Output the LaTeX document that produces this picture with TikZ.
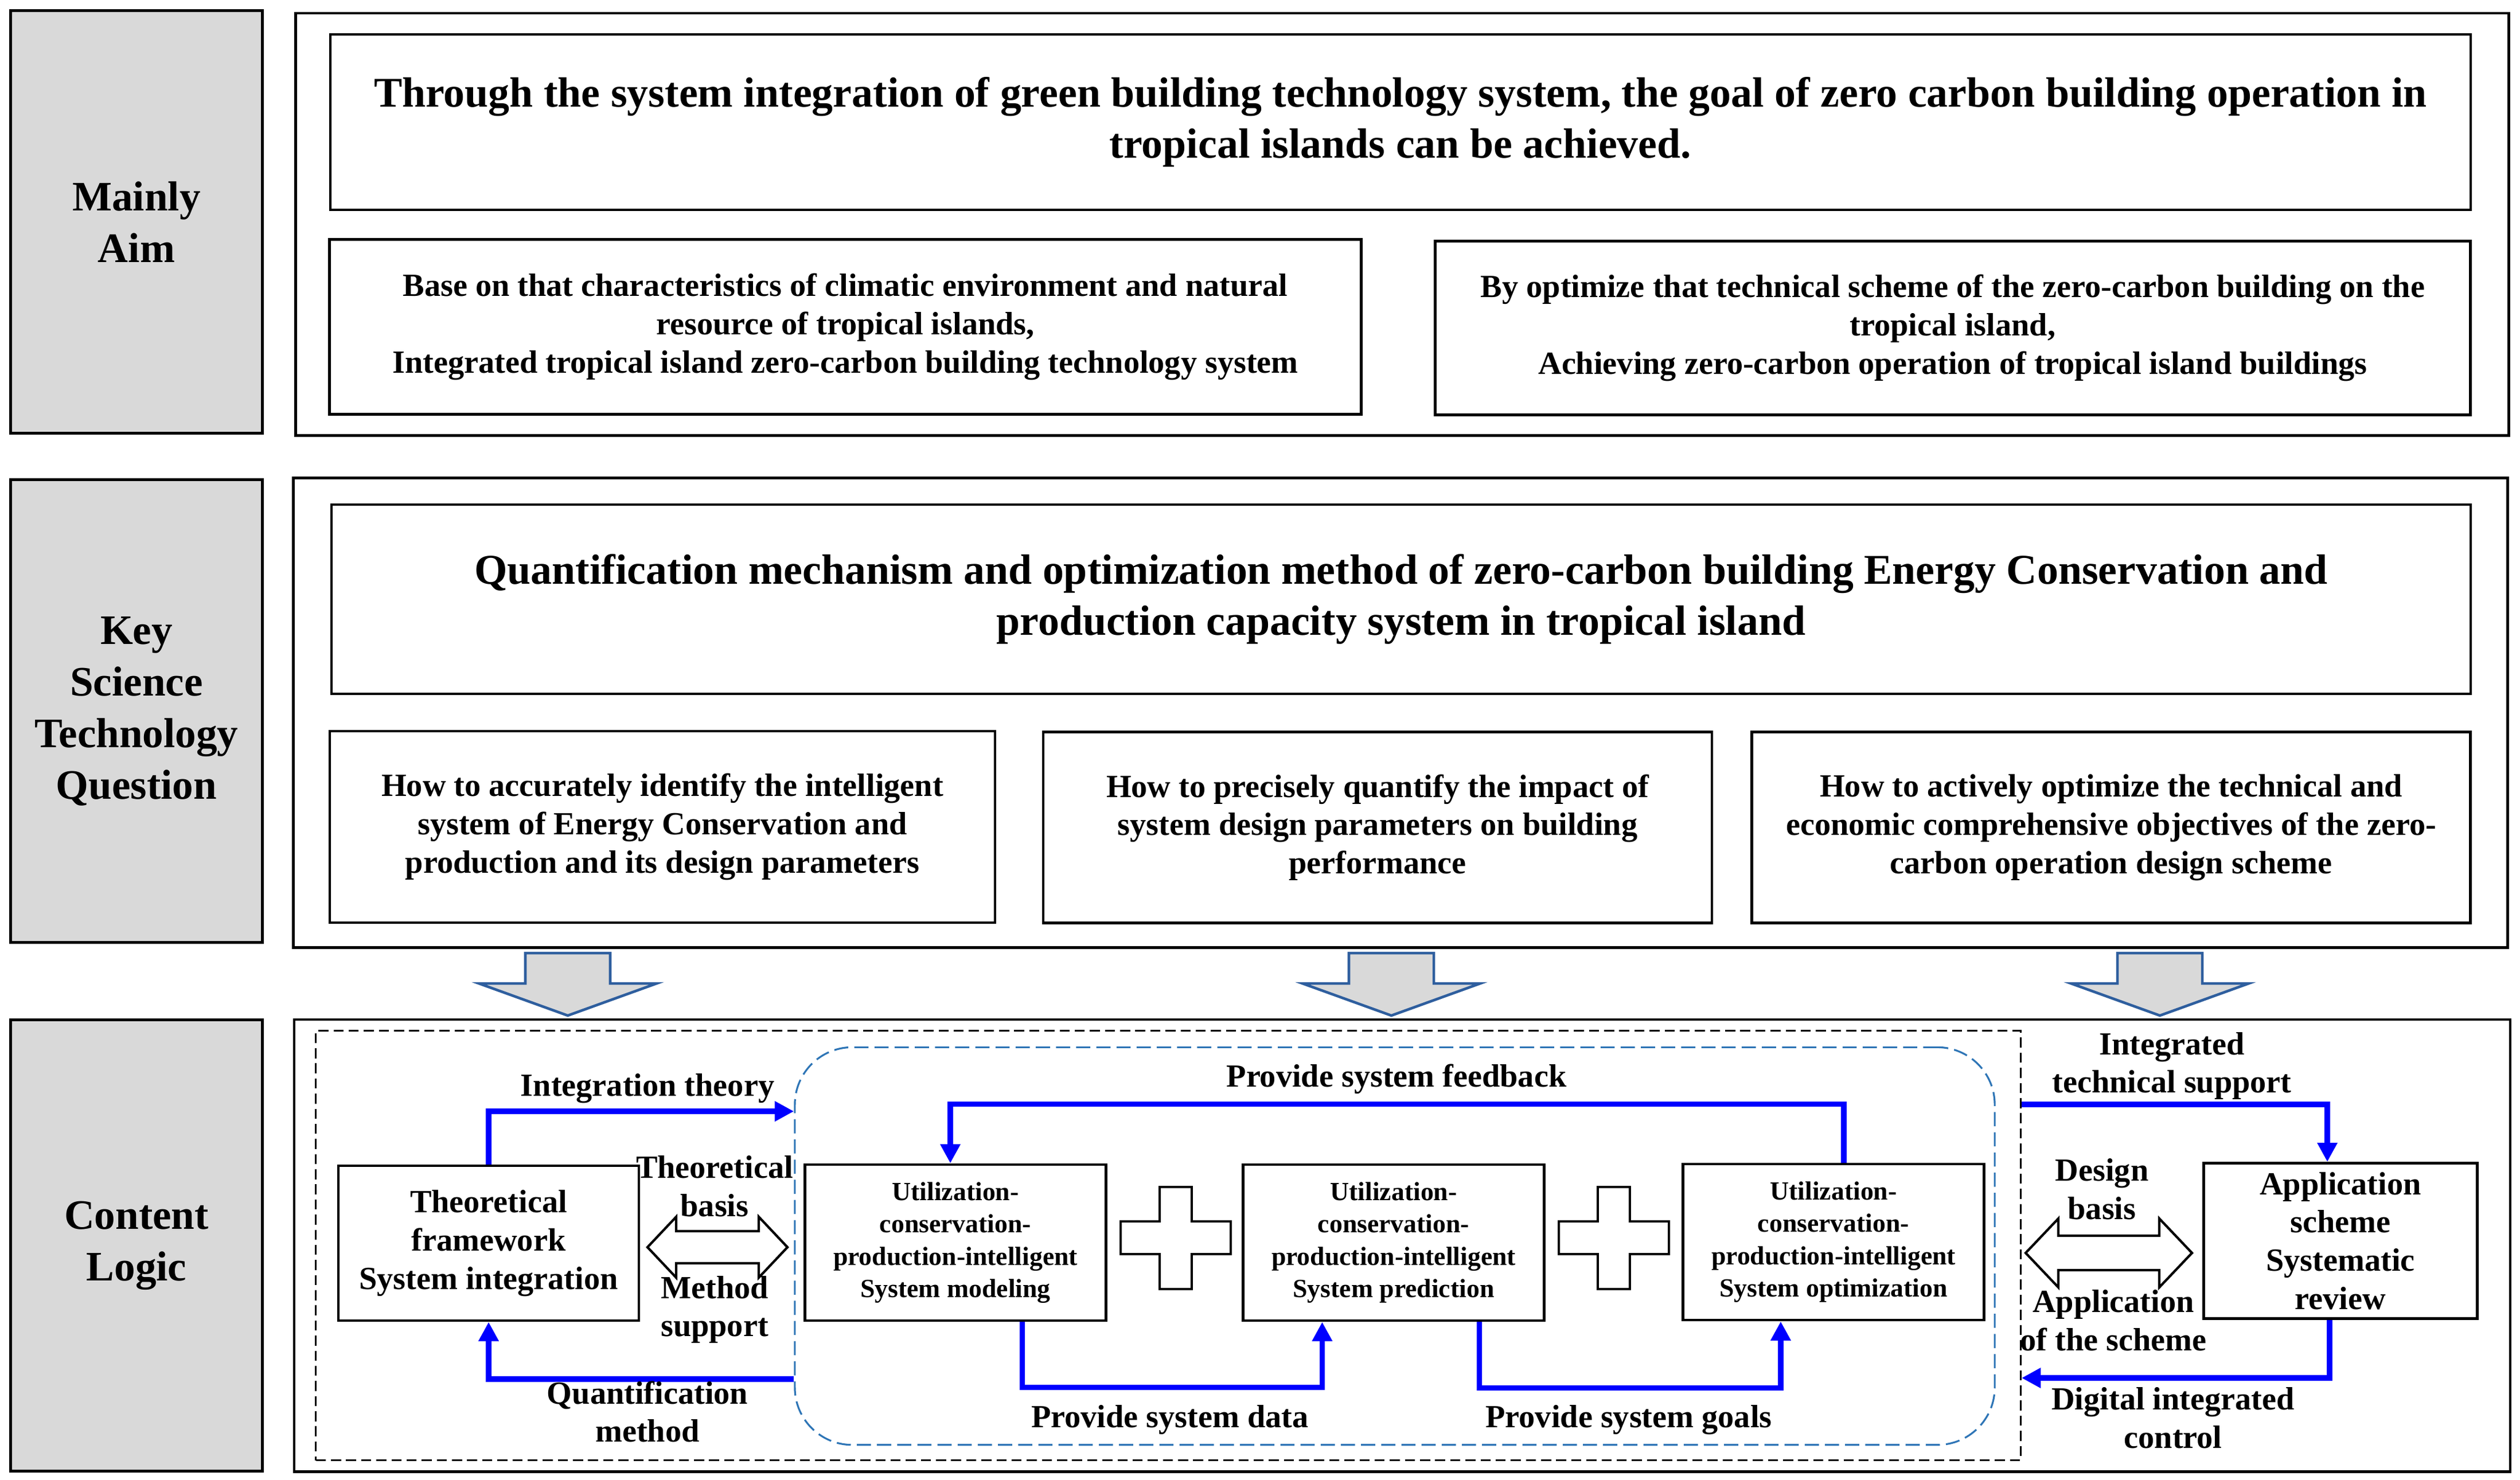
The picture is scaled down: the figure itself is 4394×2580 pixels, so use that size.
\documentclass[tikz,border=0pt]{standalone}
\usepackage{fontspec}
\setmainfont{Liberation Serif}
\usetikzlibrary{arrows.meta}
\definecolor{lgray}{HTML}{D9D9D9}
\definecolor{arrowblue}{HTML}{2E5E9E}
\definecolor{loopblue}{HTML}{2E75B6}
\newcommand{\fsbig}{\bfseries\fontsize{21pt}{25.5pt}\selectfont}
\newcommand{\fsmid}{\bfseries\fontsize{16pt}{19pt}\selectfont}
\newcommand{\fssmall}{\bfseries\fontsize{13pt}{16pt}\selectfont}

\tikzset{
  rowlab/.style={draw, line width=1.4pt, fill=lgray, inner sep=0pt, align=center,
    font=\bfseries\fontsize{20.8pt}{25.6pt}\selectfont},
  rowbox/.style={draw, line width=1.3pt, inner sep=0pt},
  headbox/.style={rowbox, align=center, font=\fsbig},
  subbox/.style={rowbox, align=center, font=\fsmid},
  cellbox/.style={rowbox, align=center, font=\fssmall},
  flowline/.style={draw=blue, line width=2.6pt, -{Triangle[length=9.5pt,width=9.5pt]}},
  tag/.style={align=center, inner sep=0pt, font=\fsmid},
  bigarrow/.style={draw=arrowblue, line width=1.3pt, fill=lgray},
  crossmark/.style={draw, line width=1.2pt, fill=white},
}

\begin{document}
\begin{tikzpicture}[x=0.01cm, y=-0.01cm]
  \useasboundingbox (0,0) rectangle (4394,2580);

  % row labels
  \node[rowlab, minimum width=4.38cm, minimum height=7.36cm] (aimlab) at (238,387) {Mainly\\Aim};
  \node[rowlab, minimum width=4.38cm, minimum height=8.07cm] (keylab) at (238,1240) {Key\\Science\\Technology\\Question};
  \node[rowlab, minimum width=4.38cm, minimum height=7.87cm] (conlab) at (238,2172) {Content\\Logic};

  % row frames
  \node[rowbox, minimum width=38.57cm, minimum height=7.36cm] (aimrow) at (2445,391) {};
  \node[rowbox, minimum width=38.59cm, minimum height=8.19cm] (keyrow) at (2442,1243) {};
  \node[rowbox, minimum width=38.62cm, minimum height=7.88cm] (conrow) at (2445,2172) {};

  % mainly aim
  \node[headbox, minimum width=37.30cm, minimum height=3.06cm] (aimtop) at (2442,213)
    {Through the system integration of green building technology system, the goal of zero carbon building operation in\\tropical islands can be achieved.};
  \node[subbox, minimum width=17.98cm, minimum height=3.05cm] (aimL) at (1474,570)
    {Base on that characteristics of climatic environment and natural\\resource of tropical islands,\\Integrated tropical island zero-carbon building technology system};
  \node[subbox, minimum width=18.04cm, minimum height=3.03cm] (aimR) at (3405,572)
    {By optimize that technical scheme of the zero-carbon building on the\\tropical island,\\Achieving zero-carbon operation of tropical island buildings};

  % key question
  \node[headbox, minimum width=37.28cm, minimum height=3.30cm] (keytop) at (2443,1045)
    {Quantification mechanism and optimization method of zero-carbon building Energy Conservation and\\production capacity system in tropical island};
  \node[subbox, minimum width=11.59cm, minimum height=3.34cm] (keyL) at (1155,1442)
    {How to accurately identify the intelligent\\system of Energy Conservation and\\production and its design parameters};
  \node[subbox, minimum width=11.65cm, minimum height=3.33cm] (keyM) at (2402,1443)
    {How to precisely quantify the impact of\\system design parameters on building\\performance};
  \node[subbox, minimum width=12.52cm, minimum height=3.33cm] (keyR) at (3681,1443)
    {How to actively optimize the technical and\\economic comprehensive objectives of the zero-\\carbon operation design scheme};

  % arrows down
  \foreach \c in {990,2426,3766}
    \draw[bigarrow] ({\c-74},1662) -- ({\c+74},1662) -- ({\c+74},1715) -- ({\c+155},1715)
      -- (\c,1771) -- ({\c-155},1715) -- ({\c-74},1715) -- cycle;

  % content logic
  \node[draw, line width=0.9pt, dash pattern=on 5pt off 2.5pt, minimum width=29.71cm, minimum height=7.49cm] (frame) at (2037,2172) {};
  \node[draw=loopblue, line width=0.9pt, dash pattern=on 7pt off 3pt, rounded corners=1cm,
    minimum width=20.91cm, minimum height=6.93cm] (loop) at (2432,2173) {};

  \node[subbox, minimum width=5.24cm, minimum height=2.70cm] (theo) at (852,2168) {Theoretical\\framework\\System integration};
  \node[cellbox, minimum width=5.25cm, minimum height=2.72cm] (model) at (1666,2167) {Utilization-\\conservation-\\production-intelligent\\System modeling};
  \node[cellbox, minimum width=5.25cm, minimum height=2.72cm] (pred) at (2430,2167) {Utilization-\\conservation-\\production-intelligent\\System prediction};
  \node[cellbox, minimum width=5.25cm, minimum height=2.72cm] (opt) at (3197,2166) {Utilization-\\conservation-\\production-intelligent\\System optimization};
  \node[subbox, minimum width=4.77cm, minimum height=2.71cm] (app) at (4081,2164) {Application\\scheme\\Systematic\\review};

  % plus signs
  \foreach \c in {2050,2814}
    \draw[crossmark] ({\c-28},2070) -- ({\c+28},2070) -- ({\c+28},2130) -- ({\c+96},2130)
      -- ({\c+96},2187) -- ({\c+28},2187) -- ({\c+28},2248) -- ({\c-28},2248)
      -- ({\c-28},2187) -- ({\c-96},2187) -- ({\c-96},2130) -- ({\c-28},2130) -- cycle;

  % double arrows
  \draw[crossmark] (1129,2175) -- (1179,2122) -- (1179,2147) -- (1323,2147) -- (1323,2122)
    -- (1373,2175) -- (1323,2228) -- (1323,2203) -- (1179,2203) -- (1179,2228) -- cycle;
  \draw[crossmark] (3532,2185) -- (3589,2125) -- (3589,2155) -- (3765,2155) -- (3765,2125)
    -- (3822,2185) -- (3765,2245) -- (3765,2215) -- (3589,2215) -- (3589,2245) -- cycle;

  % flows
  \draw[flowline] (theo.north) |- (loop.west |- 0,1938);
  \draw[flowline] (loop.west |- 0,2405) -| (theo.south);
  \draw[flowline] ([xshift=0.18cm]opt.north) -- ++(0,-102) -| ([xshift=-0.09cm]model.north);
  \draw[flowline] ([xshift=1.16cm]model.south) -- ++(0,114) -| ([xshift=-1.245cm]pred.south);
  \draw[flowline] ([xshift=1.495cm]pred.south) -- ++(0,115) -| ([xshift=-0.92cm]opt.south);
  \draw[flowline] (frame.east |- 0,1926) -| ([xshift=-0.23cm]app.north);
  \draw[flowline] ([xshift=-0.19cm]app.south) |- (frame.east |- 0,2403);

  % labels
  \node[tag] (ttheory) at (1129,1898) {Integration theory};
  \node[tag] (tbasis) at (1246,2069) {Theoretical\\basis};
  \node[tag] (tmethod) at (1246,2284) {Method\\support};
  \node[tag] (tquant) at (1129,2462) {Quantification\\method};
  \node[tag] (tfeed) at (2435,1882) {Provide system feedback};
  \node[tag] (tdata) at (2040,2476) {Provide system data};
  \node[tag] (tgoal) at (2840,2476) {Provide system goals};
  \node[tag] (tsupport) at (3787,1859) {Integrated\\technical support};
  \node[tag] (tdesign) at (3665,2074) {Design\\basis};
  \node[tag] (tscheme) at (3685,2303) {Application\\of the scheme};
  \node[tag] (tcontrol) at (3789,2473) {Digital integrated\\control};
\end{tikzpicture}
\end{document}
